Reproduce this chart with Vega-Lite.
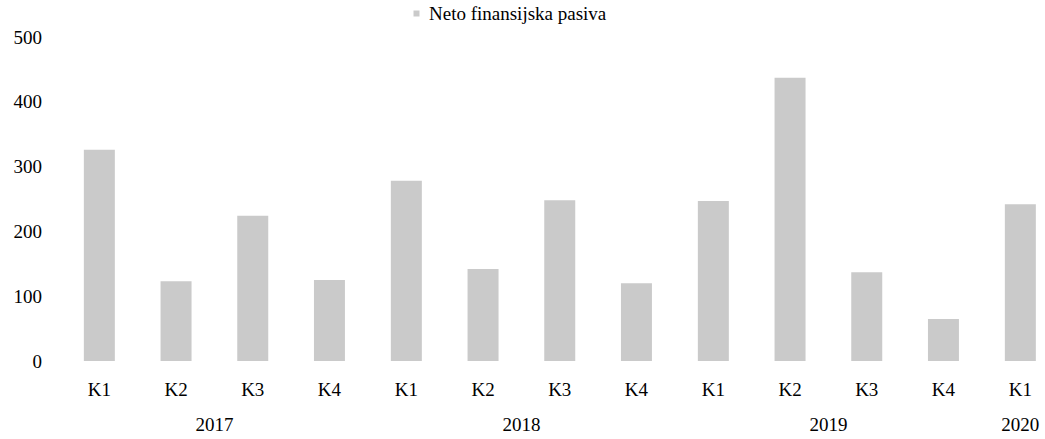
{
  "$schema": "https://vega.github.io/schema/vega-lite/v6.json",
  "padding": {"left": 12, "top": 4, "right": 0, "bottom": 0},
  "data": {"values": [
    {"year": "2017", "q": "K1", "value": 326, "series": "Neto finansijska pasiva"},
    {"year": "2017", "q": "K2", "value": 123, "series": "Neto finansijska pasiva"},
    {"year": "2017", "q": "K3", "value": 224, "series": "Neto finansijska pasiva"},
    {"year": "2017", "q": "K4", "value": 125, "series": "Neto finansijska pasiva"},
    {"year": "2018", "q": "K1", "value": 278, "series": "Neto finansijska pasiva"},
    {"year": "2018", "q": "K2", "value": 142, "series": "Neto finansijska pasiva"},
    {"year": "2018", "q": "K3", "value": 248, "series": "Neto finansijska pasiva"},
    {"year": "2018", "q": "K4", "value": 120, "series": "Neto finansijska pasiva"},
    {"year": "2019", "q": "K1", "value": 247, "series": "Neto finansijska pasiva"},
    {"year": "2019", "q": "K2", "value": 437, "series": "Neto finansijska pasiva"},
    {"year": "2019", "q": "K3", "value": 137, "series": "Neto finansijska pasiva"},
    {"year": "2019", "q": "K4", "value": 65, "series": "Neto finansijska pasiva"},
    {"year": "2020", "q": "K1", "value": 242, "series": "Neto finansijska pasiva"}
  ]},
  "facet": {
    "column": {
      "field": "year", "type": "ordinal", "title": null,
      "header": {"labelOrient": "bottom", "labelFont": "Liberation Serif", "labelFontSize": 19, "labelColor": "#000000", "labelPadding": 17}
    }
  },
  "spacing": 0,
  "resolve": {"scale": {"x": "independent"}},
  "spec": {
    "width": {"step": 76.7},
    "height": 324,
    "mark": {"type": "bar"},
    "encoding": {
      "x": {
        "field": "q", "type": "nominal", "sort": ["K1", "K2", "K3", "K4"], "title": null,
        "scale": {"paddingInner": 0.596, "paddingOuter": 0.298},
        "axis": {"labelAngle": 0, "ticks": false, "domain": false, "labelPadding": 19, "labelFont": "Liberation Serif", "labelFontSize": 19, "labelColor": "#000000"}
      },
      "y": {
        "field": "value", "type": "quantitative", "title": null,
        "scale": {"domain": [0, 500]},
        "axis": {"values": [0, 100, 200, 300, 400, 500], "grid": false, "ticks": false, "domain": false, "labelPadding": 19.6, "labelFont": "Liberation Serif", "labelFontSize": 19, "labelColor": "#000000"}
      },
      "fill": {
        "field": "series", "type": "nominal", "scale": {"range": ["#cacaca"]},
        "legend": {"title": null, "orient": "none", "legendX": 346, "legendY": -33, "symbolType": "square", "symbolSize": 36, "labelOffset": 3, "labelLimit": 400, "labelFont": "Liberation Serif", "labelFontSize": 19, "labelColor": "#000000"}
      }
    }
  },
  "config": {"view": {"stroke": null}}
}
